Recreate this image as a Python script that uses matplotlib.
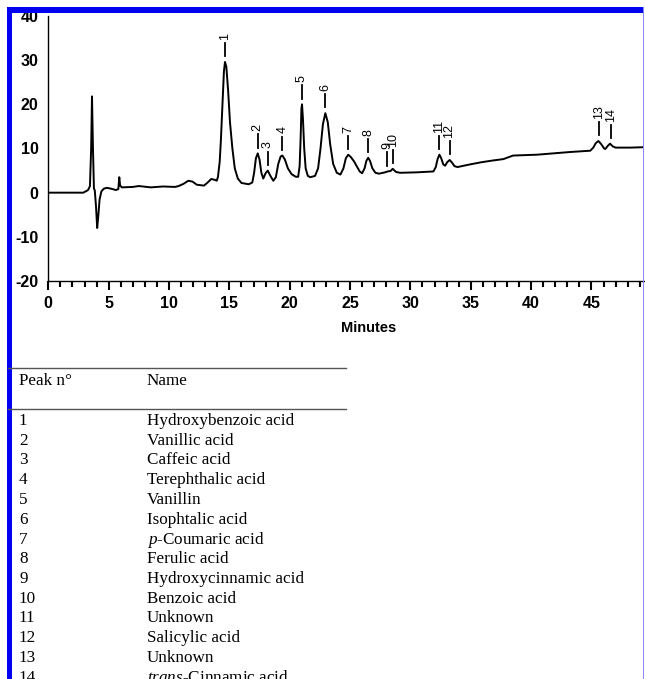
import numpy as np
import matplotlib
matplotlib.use("Agg")
import matplotlib.pyplot as plt
from matplotlib.patches import Rectangle
from matplotlib.lines import Line2D

plt.rcParams['axes.unicode_minus'] = False
plt.rcParams['mathtext.fontset'] = 'custom'
plt.rcParams['mathtext.it'] = 'Liberation Serif:italic'
plt.rcParams['mathtext.rm'] = 'Liberation Serif'

### chromatogram trace (minutes, detector signal)
trace_t = [0, 2.9, 3.3, 3.45, 3.55, 3.62, 3.7, 3.78, 3.85, 3.95, 4.05, 4.15, 4.25, 4.4,
           4.6, 4.85, 5.2, 5.6, 5.8, 5.88, 5.95, 6.1, 7.0, 7.5, 8.5, 9.5, 10.5, 10.8,
           11.2, 11.6, 11.95, 12.3, 12.9, 13.2, 13.5, 13.8, 13.95,
           14.05, 14.2, 14.3, 14.45, 14.55, 14.64, 14.75, 14.9, 15.05, 15.25, 15.45, 15.7,
           16.0, 16.6, 16.9, 17.05, 17.2, 17.35, 17.5, 17.65, 17.81, 18.0, 18.18,
           18.4, 18.64, 18.85, 19.05, 19.25, 19.39, 19.6, 19.85, 20.15, 20.5,
           20.7, 20.82, 20.9, 20.97, 21.02, 21.1, 21.2, 21.32, 21.5, 21.7,
           22.1, 22.35, 22.55, 22.75, 22.95, 23.15, 23.35, 23.6, 23.9, 24.2,
           24.45, 24.65, 24.85, 25.05, 25.3, 25.55, 25.8, 26.0,
           26.2, 26.35, 26.5, 26.65, 26.85, 27.1, 27.4, 27.9, 28.1,
           28.35, 28.53, 28.8, 29.14, 30.5, 31.9, 32.1, 32.25, 32.4, 32.55, 32.72, 32.87,
           33.05, 33.25, 33.45, 33.65, 33.9, 34.94, 35.9, 36.87, 37.7, 38.5, 39.5, 40.5,
           41.8, 43.2, 44.9, 45.15, 45.35, 45.57, 45.8, 46.05, 46.15, 46.35, 46.54, 46.75,
           47.0, 48.2, 49.4]
trace_v = [0.0, 0.0, 0.6, 1.5, 10, 21.8, 10, 1.0, 0.5, -3, -8.0, -5, -1.5, 0.3,
           0.9, 1.1, 0.9, 0.6, 0.8, 3.5, 1.6, 1.2, 1.3, 1.5, 1.2, 1.4, 1.3, 1.5,
           2.0, 2.7, 2.5, 1.8, 1.6, 2.3, 3.1, 2.9, 2.7,
           3.5, 7, 12, 21, 27.5, 29.6, 28.5, 23, 16, 10, 5.5, 3.2,
           2.2, 1.9, 2.3, 4.5, 7.8, 8.9, 7.5, 4.5, 3.2, 4.4, 5.0,
           3.8, 2.7, 3.5, 6.5, 8.2, 8.4, 7.5, 5.5, 4.2, 3.6,
           3.6, 6, 12, 19, 20.0, 16.5, 10, 5.5, 3.8, 3.5,
           3.8, 5.5, 10, 15.5, 18.0, 16, 11, 6.5, 4.5, 4.1,
           5.5, 7.8, 8.6, 8.1, 7.2, 6.0, 4.8, 4.4,
           5.5, 7.2, 7.9, 7.2, 5.5, 4.5, 4.3, 4.6, 4.8,
           4.9, 5.4, 4.7, 4.5, 4.6, 4.8, 5.8, 7.6, 8.6, 7.8, 6.4, 6.1,
           6.9, 7.4, 6.8, 6.0, 5.8, 6.4, 6.9, 7.3, 7.6, 8.4, 8.5, 8.6,
           8.9, 9.2, 9.5, 10.2, 11.2, 11.7, 11.0, 10.0, 9.9, 10.6, 11.1, 10.5,
           10.2, 10.2, 10.3]

### identified peaks
peak_ids = ['1', '2', '3', '4', '5', '6', '7', '8', '9', '10', '11', '12', '13', '14']
peak_t = [14.64, 17.35, 18.18, 19.39, 21.0, 22.95, 24.85, 26.5, 28.1, 28.53, 32.38, 33.24, 45.6, 46.6]
peak_v = [29.6, 8.9, 5.0, 8.4, 20.0, 18.0, 8.6, 7.9, 4.8, 5.4, 8.6, 7.4, 11.7, 11.1]

peak_names = ['Hydroxybenzoic acid', 'Vanillic acid', 'Caffeic acid', 'Terephthalic acid',
              'Vanillin', 'Isophtalic acid', r'$\mathit{p}$-Coumaric acid', 'Ferulic acid',
              'Hydroxycinnamic acid', 'Benzoic acid', 'Unknown', 'Salicylic acid',
              'Unknown', r'$\mathit{trans}$-Cinnamic acid']

W, H = 645, 679
fig = plt.figure(figsize=(W / 100, H / 100), dpi=100)
fig.patch.set_facecolor('white')

def fx(px):
    return px / W

def fy(py):
    return 1 - py / H

ax = fig.add_axes([fx(48.3), fy(281), fx(644) - fx(48.3), fy(16) - fy(281)])
ax.plot(trace_t, trace_v, color='black', lw=1.4, solid_joinstyle='round')

# peak markers and numbers
for pid, t, v in zip(peak_ids, peak_t, peak_v):
    ax.plot([t, t], [v + 1.3, v + 4.3], color='black', lw=1.3)
    ax.text(t, v + 5.0, pid, rotation=90, ha='center', va='bottom',
            fontsize=9, family='Liberation Sans')

ax.set_xlim(0, 49.35)
ax.set_ylim(-20, 40)
ax.set_xticks(np.arange(0, 50, 5))
ax.set_xticks(np.arange(0, 50, 1), minor=True)
ax.set_yticks(np.arange(-20, 41, 10))
ax.spines['top'].set_visible(False)
ax.spines['right'].set_visible(False)
ax.spines['left'].set_linewidth(1.0)
ax.spines['bottom'].set_linewidth(1.0)
ax.tick_params(axis='x', which='major', direction='out', length=6.5, width=1.5, pad=4)
ax.tick_params(axis='x', which='minor', direction='out', length=4.3, width=1.5)
ax.tick_params(axis='y', length=0, pad=7)
for lab in ax.get_xticklabels() + ax.get_yticklabels():
    lab.set_fontfamily('Liberation Sans')
    lab.set_fontweight('bold')
    lab.set_fontsize(11.5)
ax.set_xlabel('Minutes', fontsize=10.5, fontweight='bold', family='Liberation Sans')
ax.xaxis.set_label_coords(0.537, -0.15)

# peak table
rule_kw = dict(color='#555555', lw=1.0)
fig.add_artist(Line2D([fx(8), fx(346)], [fy(368.3), fy(368.3)], **rule_kw))
fig.add_artist(Line2D([fx(8), fx(346)], [fy(409), fy(409)], **rule_kw))
tkw = dict(fontsize=12.3, family='Liberation Serif', va='baseline', ha='left')
fig.text(fx(19), fy(385), 'Peak n°', **tkw)
fig.text(fx(146.7), fy(385), 'Name', **tkw)
for i, (pid, name) in enumerate(zip(peak_ids, peak_names)):
    yb = 425 + i * 19.75
    fig.text(fx(19), fy(yb), pid, **tkw)
    fig.text(fx(146.7), fy(yb), name, **tkw)

# blue frame
fig.add_artist(Rectangle((fx(7), 0), fx(5.3), fy(7.3), color='#0000f0', lw=0))
fig.add_artist(Rectangle((fx(7), fy(13.3)), fx(643) - fx(7), fy(7.3) - fy(13.3), color='#0000f0', lw=0))
fig.add_artist(Rectangle((fx(643), 0), fx(1.2), fy(7.3), color='#8888ff', lw=0))

fig.savefig('out.png', dpi=100)
